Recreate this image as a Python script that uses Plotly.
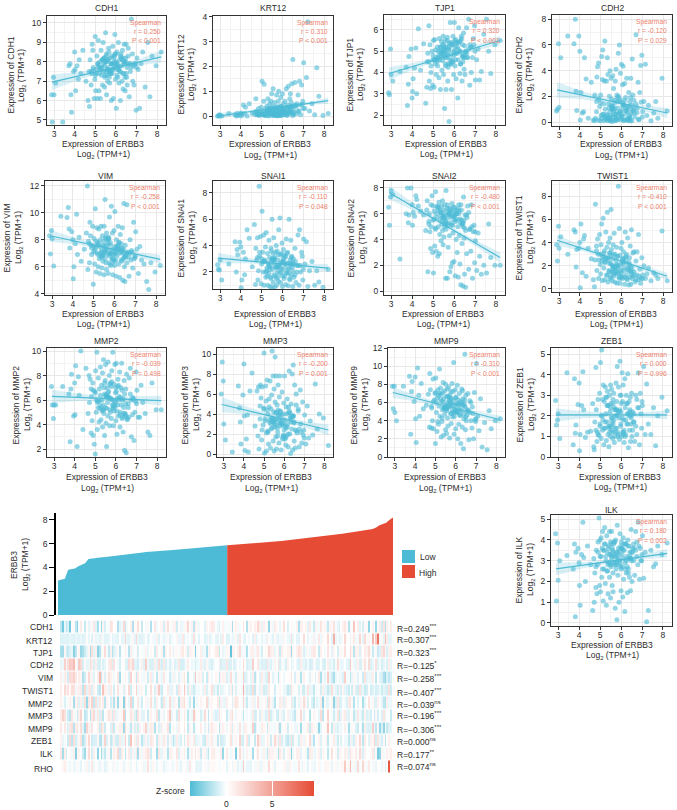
import numpy as np
import plotly.graph_objects as go

W, H = 677, 810
BLUE = '#4DBBD5'
RED = '#E64B35'
TXT = '#2b2b2b'

# ERBB3 per sample, shared by every scatter panel and the heatmap columns
ERBB3 = [2.88,2.92,2.97,3.0,3.08,3.42,3.72,3.78,3.82,3.85,3.95,4.0,4.02,4.05,4.12,4.18,4.22,4.3,4.4,4.55,
         4.65,4.7,4.72,4.75,4.8,4.82,4.85,4.88,4.9,4.95,4.98,5.0,5.02,5.05,5.08,5.1,5.12,5.15,5.18,5.2,
         5.22,5.25,5.28,5.3,5.32,5.35,5.35,5.38,5.4,5.42,5.45,5.45,5.48,5.5,5.5,5.52,5.55,5.55,5.58,5.6,5.62,5.62,5.65,5.68,5.7,5.72,5.74,5.76,5.78,5.8,
         5.82,5.85,5.88,5.9,5.92,5.95,5.98,6.0,6.02,6.05,6.08,6.1,6.12,6.15,6.18,6.2,6.22,6.25,6.28,6.3,6.32,6.35,6.38,6.4,6.42,6.45,6.48,6.5,6.52,6.55,
         6.6,6.65,6.7,6.75,6.8,6.82,6.88,6.92,6.98,7.02,7.08,7.15,7.22,7.3,7.42,7.55,7.65,7.75,7.95,8.2,
         5.05,5.4,5.62,5.83,6.0,6.22,6.44,5.2,5.5,5.7,5.9,6.07,6.33,6.6,4.9,5.33,5.58,5.78,5.96,6.15,6.38,6.7,5.12,5.46,5.66,5.86,6.03,6.26,6.5,6.85,
         4.8,5.27,5.53,5.73,5.93,6.12,6.35,6.62,7.0,5.0,5.37,5.6,5.8,5.99,6.2,6.42,6.75,5.15,5.43,5.68,5.88,6.05,6.3,6.55,6.95,5.25,5.56,5.76,6.1,6.47]

CDH1 = [6.3,4.9,7.2,6.3,6.9,4.9,7.8,7.9,6.3,5.4,7.5,8.5,7.6,6.5,7.8,7.1,8.1,7.4,8.6,7.0,
        6.0,7.5,5.7,8.1,6.8,7.4,8.9,8.6,7.7,6.1,7.1,9.3,6.5,7.6,8.3,6.1,7.9,9.1,6.5,7.4,
        8.0,6.1,8.6,7.3,7.7,8.1,6.8,9.0,7.5,8.2,6.7,7.8,7.3,9.5,8.0,7.5,8.4,6.3,7.6,7.0,8.1,7.7,8.7,7.2,6.9,8.2,7.5,7.9,6.0,8.3,
        7.4,8.8,6.1,7.7,8.3,9.4,7.1,8.0,5.6,8.5,7.6,7.2,9.0,6.9,8.1,7.5,6.0,8.4,7.8,7.0,8.6,6.6,7.4,8.9,7.9,6.5,8.0,8.9,7.2,6.8,
        8.7,6.2,7.9,10.2,8.4,7.0,6.8,7.9,5.5,8.2,7.6,5.6,7.9,8.5,6.7,9.0,6.2,8.3,7.8,8.5,
        7.4,7.9,8.1,7.6,7.8,8.3,7.2,7.7,8.0,7.5,8.2,7.9,7.4,8.3,7.6,8.1,7.3,7.9,8.4,7.7,8.0,7.5,7.9,7.2,8.5,7.6,7.9,8.2,7.4,7.8,
        7.5,7.7,8.3,7.4,8.0,7.6,8.2,7.9,7.7,7.3,8.1,7.6,7.9,8.4,7.5,8.0,7.7,7.8,8.2,7.5,7.9,7.3,8.1,7.7,7.9,7.6,8.0,7.4,7.8,8.2]
KRT12 = [0,0,.05,.02,0,.1,.05,0,.1,.02,.05,.12,0,.08,.45,.1,.35,0,.5,.1,
         .15,.05,.7,.2,.05,.1,.3,.02,.15,.05,.35,.1,1.4,.05,.2,.6,1.28,.1,.02,.3,
         .05,.4,.15,.7,0,.25,.1,.5,.02,.3,.6,.1,.9,.2,.05,.4,.15,1.1,.3,.02,.1,.55,.2,.05,.35,.85,0,.25,.1,.6,
         1.0,.15,.4,.02,.75,.2,.1,.9,.3,.5,.05,.2,.6,.15,1.1,.35,.05,.45,1.2,.1,.3,.7,.9,.15,.55,1.3,.02,2.28,.25,.05,
         1.35,.4,.1,.85,.2,1.4,.05,1.25,.6,2.15,.3,1.55,3.8,.2,.5,.05,1.95,.8,.02,.1,
         .1,.2,.05,.3,.15,.02,.4,.1,.25,.05,.35,.12,.2,.45,.08,.3,.02,.18,.4,.1,.25,.5,.05,.15,.3,.02,.2,.35,.1,.45,
         .05,.22,.12,.38,.02,.28,.15,.42,.3,.08,.18,.32,.05,.25,.12,.4,.2,.02,.3,.1,.22,.05,.35,.15,.48,.1,.28,.02,.18,.38]
TJP1 = [3.05,2.95,5.1,3.9,3.6,4.05,4.25,2.45,3.45,4.75,5.1,2.8,3.1,3.7,4.2,5.15,3.0,6.05,4.1,5.35,
        2.55,3.3,4.5,4.9,6.2,3.6,5.3,3.25,4.0,5.0,3.4,4.8,5.5,3.3,5.55,4.4,5.05,3.9,4.6,5.2,
        4.3,5.0,3.75,5.6,4.6,5.2,3.2,4.8,5.45,4.1,5.0,4.55,5.7,3.9,4.75,5.3,2.3,4.95,5.5,4.4,3.2,5.15,4.7,5.65,3.6,4.25,5.05,1.7,5.35,4.6,
        6.35,4.85,3.2,5.4,4.5,5.7,3.9,5.0,6.35,4.3,5.55,3.7,4.9,5.2,2.8,4.6,6.1,5.45,3.95,5.0,4.4,5.7,3.6,5.3,4.75,5.85,4.15,5.25,3.9,4.95,
        6.1,4.7,6.5,3.4,5.2,4.0,4.7,5.6,6.2,3.65,4.6,5.1,3.65,4.05,5.8,6.5,5.0,3.95,5.3,5.5,
        4.6,4.9,5.2,4.4,5.0,5.4,4.7,4.5,5.1,4.8,5.3,4.6,5.5,4.9,4.3,5.0,4.7,5.2,4.5,5.4,4.8,5.1,4.6,5.3,4.9,4.4,5.5,5.0,4.7,5.2,
        4.5,4.8,5.1,4.4,5.3,4.9,5.6,4.7,5.0,4.6,5.2,4.3,5.4,4.8,5.1,4.5,5.3,4.7,4.9,5.5,4.6,5.2,4.4,5.0,5.3,4.7,4.9,5.1,5.4,4.8]
CDH2 = [.85,1.0,6.1,1.15,5.0,6.7,6.1,8.0,2.4,.9,6.7,5.5,.15,2.3,.7,.8,5.0,3.35,.3,3.1,
        .15,.1,2.1,.3,.8,3.5,4.3,.15,4.6,1.2,.1,2.1,.5,5.1,3.3,5.6,.6,.1,3.2,6.3,
        1.0,.2,3.2,.6,5.0,.1,3.7,1.4,.3,2.0,.8,4.0,.15,3.4,.5,1.8,.05,1.2,3.6,.4,2.6,.9,.15,1.5,3.2,.6,4.1,.3,2.1,.8,
        1.1,5.35,.2,6.0,1.6,3.8,.4,4.5,.9,2.9,4.35,.1,1.3,3.0,.6,1.9,.2,3.4,.8,1.2,.1,2.3,.5,1.6,.3,3.4,1.0,.1,4.9,2.1,
        1.7,.4,6.8,1.1,3.1,.2,2.3,4.4,5.2,.8,1.6,4.5,.5,1.3,.1,.7,1.6,.3,3.4,.85,
        .3,1.1,.6,1.6,.2,.9,1.9,.4,1.3,.1,.7,1.5,.25,1.0,1.8,.5,1.2,.15,.8,1.7,.35,1.4,.6,.1,1.1,2.0,.45,.9,1.3,.2,
        1.6,.3,1.0,.55,1.8,.15,1.2,.7,.4,1.5,.25,.95,1.9,.5,1.1,.1,.75,1.4,.35,1.7,.6,1.25,.2,.85,1.55,.4,1.05,.3,1.35,.65]
VIM = [8.3,6.95,8.7,8.1,6.05,9.75,9.65,10.4,8.8,7.4,8.6,8.0,5.1,6.0,7.7,9.9,6.9,8.2,6.4,7.3,
       8.5,12.0,5.8,7.9,6.3,9.3,8.3,7.6,6.9,9.0,4.7,7.1,8.1,6.2,10.3,7.4,5.6,8.9,7.0,7.8,
       6.0,8.8,7.5,5.5,8.0,6.7,9.0,7.2,5.9,8.3,7.6,6.4,7.9,5.4,9.0,7.1,11.0,6.6,8.1,7.3,5.8,8.5,6.9,7.7,5.5,8.2,6.3,9.7,7.0,6.1,
       7.6,10.5,6.6,8.5,5.4,7.3,8.7,6.1,10.1,7.0,5.3,8.0,6.8,7.5,9.0,6.2,7.8,5.2,8.4,7.1,6.5,7.4,8.9,5.0,7.0,10.7,6.0,4.9,7.6,6.7,
       10.6,7.1,5.3,8.0,6.5,7.2,5.9,9.3,6.8,8.6,7.3,5.5,7.5,6.5,6.2,4.9,4.3,6.3,5.6,6.1,
       7.2,6.8,7.6,7.0,6.4,7.8,7.3,6.9,7.5,8.0,6.6,7.1,7.7,6.3,7.4,6.9,8.2,7.0,6.5,7.6,7.2,6.7,7.9,6.9,7.3,6.2,7.5,7.0,6.8,7.1,
       7.7,6.6,7.2,8.1,6.9,7.4,6.4,7.0,6.7,7.5,7.1,6.3,7.8,6.9,7.3,6.6,7.0,7.6,6.8,8.0,7.2,6.5,7.4,6.9,6.6,7.7,7.1,6.8,7.3,6.7]
SNAI1 = [2.55,2.2,2.15,2.9,1.4,2.6,4.3,2.0,3.7,3.3,4.25,3.9,.8,1.4,3.5,1.8,3.0,5.2,4.55,2.4,
         5.6,1.05,3.8,2.9,4.6,1.4,2.1,8.5,3.2,4.7,1.1,2.6,6.6,3.5,2.0,4.8,1.0,2.8,3.9,1.6,
         5.0,2.3,3.4,1.0,2.7,4.4,1.9,3.1,.9,2.5,3.8,1.5,2.9,.8,6.0,2.2,3.4,1.2,4.6,2.7,.85,3.0,1.7,2.4,4.0,1.0,3.6,2.0,2.9,1.3,
         5.2,2.5,6.1,1.2,3.3,2.0,4.2,.9,2.8,3.7,1.5,2.3,3.1,1.05,4.5,1.9,2.6,3.5,.95,2.2,6.0,1.4,2.9,4.4,1.8,3.2,2.4,.9,3.0,1.6,
         3.8,1.2,2.5,4.8,1.0,5.2,2.0,3.5,1.4,4.5,2.6,4.3,.9,2.1,2.8,1.0,2.1,1.25,.85,2.2,
         2.8,2.2,3.1,2.5,1.7,3.4,2.6,2.0,3.0,1.5,2.7,3.3,2.3,1.8,3.5,2.5,2.9,1.6,2.2,3.2,2.6,2.0,2.8,3.6,2.4,1.9,3.0,2.7,2.1,2.5,
         3.1,1.7,2.9,2.3,3.4,2.6,1.5,2.8,2.2,3.0,2.4,1.8,3.3,2.7,2.0,3.1,2.5,2.9,1.6,3.5,2.3,2.8,1.9,2.6,3.2,2.1,3.0,2.4,1.7,2.7]
SNAI2 = [6.5,5.1,7.3,7.8,7.5,2.5,6.0,8.0,5.3,5.9,8.0,6.7,5.1,6.1,5.8,7.4,7.1,6.6,6.2,5.9,
         4.7,6.3,7.0,1.5,5.2,6.0,4.6,3.3,6.7,7.4,3.0,5.5,1.4,6.2,3.5,4.9,7.7,3.1,5.7,6.5,
         2.7,5.0,6.9,2.9,4.4,6.1,5.6,3.9,6.6,5.2,4.7,7.0,3.6,5.9,6.3,4.2,6.7,5.0,5.5,1.0,7.8,4.8,6.1,1.0,5.3,3.4,6.4,5.7,4.3,1.5,
         6.2,1.9,5.1,6.8,2.2,4.5,5.8,2.3,6.5,1.2,5.4,4.0,6.0,3.0,5.0,1.1,6.7,4.3,2.1,5.6,.5,6.3,3.7,5.2,.4,7.3,4.1,1.3,5.9,.3,
         2.9,6.6,1.7,4.8,3.1,6.7,1.0,4.6,2.2,3.9,1.6,4.5,2.7,1.3,2.0,1.4,5.2,2.6,2.0,2.0,
         5.6,6.1,5.2,6.4,5.8,6.0,5.3,6.6,5.7,5.1,6.2,5.5,6.7,5.9,5.0,6.3,5.4,6.0,6.5,5.6,5.2,6.1,4.8,5.7,6.4,5.3,5.9,6.2,4.9,5.0,
         5.4,6.5,5.8,6.0,5.1,6.3,5.5,5.7,4.6,6.6,5.9,5.2,6.1,5.6,6.4,5.0,4.8,6.0,5.4,6.7,5.8,6.2,5.3,4.7,5.1,6.3,5.7,5.9,6.0,5.5]
TWIST1 = [3.8,2.4,5.4,3.5,4.5,3.0,5.1,4.9,1.9,3.4,3.5,4.0,.1,5.6,1.4,4.3,4.6,1.1,3.5,2.6,
          .8,.2,2.5,7.3,3.7,1.6,4.3,3.0,.9,4.7,2.1,1.3,3.8,5.6,.7,2.8,6.1,1.8,3.3,.8,
          2.3,4.9,1.2,3.6,6.6,.6,2.7,4.0,1.6,3.1,.9,4.4,2.2,1.0,6.85,3.4,1.5,.7,2.6,3.8,1.1,2.0,4.8,.6,3.0,1.7,2.4,3.6,.5,1.3,
          2.8,8.85,1.0,5.2,.5,2.1,3.5,1.4,4.0,.9,2.6,3.2,1.8,.4,4.9,2.3,1.2,3.0,.8,4.4,1.6,.35,2.7,1.0,3.7,.4,5.1,1.9,.9,3.1,
          1.5,.6,2.4,3.2,.8,4.7,1.7,.5,2.7,1.2,2.0,.9,1.3,1.8,.7,1.4,1.2,.9,5.0,.7,
          2.4,1.5,3.0,2.0,1.1,2.7,1.8,2.3,2.9,1.4,.9,2.2,1.7,3.2,2.5,1.2,1.9,2.8,1.6,1.0,2.1,.8,2.6,3.1,1.3,1.8,2.4,.9,1.5,1.1,
          3.3,2.6,1.4,2.0,2.9,1.6,2.3,1.2,.9,3.0,2.5,1.7,2.1,1.0,2.8,1.5,1.2,3.1,2.2,1.8,1.4,2.6,1.9,1.1,.9,2.7,2.0,1.5,2.3,1.3]
MMP2 = [7.1,5.6,4.5,5.6,5.6,7.1,6.5,2.6,6.9,8.1,4.7,7.4,4.8,8.8,2.2,7.9,6.4,10.0,3.6,8.6,
        4.9,8.0,5.8,7.7,3.3,6.3,4.3,7.4,3.1,2.4,6.7,1.6,8.4,5.0,9.9,3.6,5.9,7.8,4.2,6.9,
        5.3,8.7,4.4,7.2,6.0,3.8,8.2,5.6,9.3,4.9,6.5,3.1,7.6,5.4,8.9,4.1,6.2,2.2,7.0,5.8,9.1,4.7,6.7,8.0,3.9,5.2,7.4,6.1,4.5,8.4,
        6.0,9.9,3.9,7.3,5.1,8.9,6.6,4.3,9.0,3.2,5.6,7.7,4.7,6.3,8.3,3.8,5.0,7.0,9.0,4.5,6.0,3.4,5.4,7.6,1.9,4.9,6.9,1.7,8.1,4.4,
        5.4,7.8,8.6,3.0,4.8,6.2,2.7,5.0,8.3,6.8,4.6,4.6,7.2,5.8,4.9,3.4,3.1,7.4,5.2,5.2,
        6.0,5.2,6.6,5.6,7.0,6.2,4.8,5.9,6.4,7.3,5.4,6.1,4.6,5.7,6.8,5.1,6.3,7.1,5.5,6.0,4.9,6.5,5.8,7.4,6.2,5.3,6.7,5.6,4.7,6.1,
        6.9,5.5,6.4,5.0,5.9,7.2,6.1,4.6,5.7,6.6,5.2,6.3,7.5,5.8,4.8,6.5,6.0,5.4,7.0,6.2,5.6,5.1,6.8,4.5,5.9,6.4,5.3,6.1,7.1,5.7]
MMP3 = [6.0,9.2,7.3,3.0,1.4,.2,6.8,4.6,3.2,1.0,5.9,9.0,3.8,.35,1.5,3.9,.2,6.3,8.1,2.8,
        6.3,1.8,6.7,.5,3.5,6.9,5.6,1.4,6.7,2.9,4.5,10.1,.1,3.3,6.8,5.3,.3,7.4,2.3,4.0,
        1.0,5.5,3.2,7.3,.6,4.5,2.5,5.9,10.3,3.6,1.3,7.8,4.2,.3,6.5,3.0,5.2,9.7,1.7,7.8,3.5,.5,4.9,2.2,6.9,3.9,1.1,5.7,7.8,2.8,
        4.3,.4,3.1,6.2,1.5,4.0,5.1,2.4,7.8,3.4,.9,4.7,1.8,5.5,3.0,.7,4.1,8.3,2.0,3.6,.05,5.0,2.5,8.0,.4,8.9,3.2,1.3,6.9,.6,
        6.0,2.1,4.3,.7,6.4,3.0,1.1,5.2,2.4,3.9,1.0,4.8,1.6,3.3,1.9,7.0,2.5,4.0,3.6,.85,
        3.5,2.6,4.2,3.1,1.8,4.7,3.8,2.2,3.3,4.4,2.9,1.6,3.6,4.9,2.4,3.0,4.1,3.4,1.9,2.7,3.8,4.5,2.1,3.2,2.6,3.9,1.5,4.3,3.1,2.2,
        4.8,3.4,2.7,3.9,1.7,4.0,3.2,2.3,1.6,4.6,3.6,2.9,4.2,3.0,2.0,3.7,2.5,4.4,3.3,1.8,3.5,2.8,4.1,2.4,1.9,4.7,3.4,3.1,2.6,3.8]
MMP9 = [7.8,5.3,7.8,4.9,4.0,7.8,8.9,2.5,7.2,8.3,6.1,8.8,4.2,1.6,9.8,6.8,4.5,8.1,5.3,5.7,
        6.9,3.3,9.2,7.4,3.2,5.4,4.0,8.6,3.1,6.3,7.0,1.5,8.7,4.9,2.8,6.5,7.4,3.6,5.6,9.7,
        4.5,7.6,2.2,6.1,3.9,7.1,5.2,8.2,2.4,6.4,4.7,7.3,5.7,3.0,8.0,6.7,5.1,2.6,7.5,4.3,6.0,3.4,7.7,5.5,2.1,6.8,4.8,7.2,3.7,5.9,
        8.1,4.4,6.3,10.4,2.5,5.3,7.4,3.1,6.6,4.9,7.9,2.0,5.8,3.6,7.0,4.6,6.1,1.5,5.1,7.5,3.3,6.4,.9,4.2,5.6,11.3,3.0,6.8,4.0,5.0,
        7.0,1.9,4.9,6.0,3.2,5.5,2.0,7.1,3.9,10.3,4.5,2.9,6.4,1.1,3.8,.8,5.1,3.1,4.0,4.2,
        6.0,5.4,6.7,5.1,5.8,4.6,6.3,7.0,5.5,6.5,4.9,5.9,7.3,5.2,6.1,4.3,5.7,6.4,5.0,5.6,4.7,6.2,3.9,5.3,6.6,7.2,5.0,5.8,4.4,4.8,
        5.6,6.9,5.3,6.0,4.5,6.3,5.7,5.1,4.2,7.1,6.1,5.5,4.8,6.5,5.2,5.9,4.0,6.8,5.4,6.2,5.7,5.0,6.0,4.6,4.1,6.4,5.3,5.8,4.9,5.5]
ZEB1 = [2.75,1.55,1.8,2.1,.9,4.1,.6,3.8,1.15,1.55,2.55,3.6,.3,1.1,2.5,4.15,2.3,.95,1.2,1.25,
        2.6,.5,.35,1.7,4.35,2.3,.75,1.2,2.8,1.05,3.1,1.6,4.6,.9,5.2,2.0,1.3,3.5,.6,2.7,
        1.4,3.4,2.1,.8,2.9,1.7,3.2,1.1,2.5,.5,3.0,1.5,2.2,3.5,1.0,2.6,1.3,3.3,1.9,.9,2.8,1.6,3.1,.7,2.3,1.2,2.0,3.6,1.4,2.7,
        4.4,1.0,3.4,2.2,.85,4.65,1.5,3.0,2.6,4.1,1.2,3.5,1.8,.7,3.8,2.4,1.1,3.0,1.6,2.1,4.05,.45,2.7,1.3,2.3,.75,1.9,3.1,1.0,2.2,
        1.7,.75,3.0,1.1,2.4,4.1,.6,3.1,1.4,2.5,4.4,1.1,3.55,1.6,1.1,2.4,.55,2.0,2.9,2.25,
        2.0,1.5,2.6,1.2,2.2,1.8,2.9,1.4,2.4,1.0,1.9,2.7,1.6,2.1,1.1,2.5,1.7,2.3,3.0,1.3,2.0,1.5,2.8,1.2,1.8,2.2,1.0,2.6,1.6,2.4,
        1.3,2.9,1.9,1.4,2.3,1.1,2.1,1.7,2.7,1.5,2.5,1.2,2.0,1.6,1.0,2.2,2.8,1.8,1.4,2.4,1.1,1.9,2.6,1.3,2.1,1.7,1.5,2.3,1.2,2.0]
ILK = [4.3,1.05,3.85,2.05,3.0,3.25,2.6,3.8,.3,3.4,3.6,2.9,1.8,.85,3.3,4.85,3.15,2.0,3.7,2.8,
       .6,3.1,1.0,2.4,1.7,3.5,1.4,2.8,3.9,5.05,1.8,3.2,1.5,4.1,2.2,3.6,4.4,1.05,2.6,3.8,
       4.6,1.9,3.0,.85,4.2,2.5,3.4,1.4,3.7,2.9,4.4,2.2,3.3,1.2,3.9,2.7,4.4,3.1,1.8,3.5,2.4,1.5,3.8,2.8,3.2,.7,4.0,2.6,3.4,.15,
       4.7,2.3,3.6,1.0,3.0,4.3,2.7,1.55,3.9,3.3,1.25,4.1,2.1,3.5,.55,2.9,3.8,2.4,3.2,1.45,4.0,2.6,3.7,2.2,3.4,1.55,4.5,3.0,2.0,3.6,
       3.8,2.3,4.4,3.2,2.8,4.85,2.1,3.6,3.0,4.2,2.15,3.4,.05,.6,3.5,2.7,2.85,3.7,3.3,3.85,
       3.2,3.6,2.9,3.4,2.6,3.8,3.1,3.5,2.8,3.9,3.3,2.7,3.7,3.0,3.4,2.5,3.6,3.2,2.9,3.8,3.1,3.5,2.6,3.3,3.9,2.8,3.6,3.0,3.4,3.7,
       2.7,3.2,3.8,2.9,3.5,3.1,2.4,3.6,3.3,4.0,2.8,3.4,3.0,3.7,2.6,3.2,3.9,3.5,2.9,3.3,3.1,3.6,2.7,3.4,3.0,3.8,3.2,2.8,3.5,3.1]
# heatmap only, already z-scored
RHO_Z = [.1,.5,.9,.3,-.2,-.4,.2,-.5,-.3,.4,-.2,-.6,.1,-.3,.6,-.5,-.2,1.2,-.4,.1,
         -.3,-.5,.3,-.2,-.6,.2,-.1,-.4,.5,-.3,.1,-.5,-.2,.3,-.4,.1,-.6,-.2,.4,-.3,
         1.6,-.4,.2,-.5,-.1,.3,-.6,-.2,.1,-.4,.6,-.3,.2,-.5,-.1,1.3,-.4,.1,-.6,.3,-.2,-.5,.4,-.1,-.3,.2,-.6,.1,-.4,.3,
         -.2,2.6,-.5,.1,-.3,.5,-.4,-.2,1.8,-.6,.2,-.1,.4,-.5,.1,-.3,1.4,-.2,.3,-.6,.1,-.4,.5,-.2,-.1,.3,-.5,.2,-.3,.1,
         2.8,.6,3.6,.3,1.9,-.2,2.2,.4,1.1,-.3,.5,-.5,.2,-.1,-.4,.3,-.6,-.2,9.0,-.3,
         .2,-.3,.4,-.5,.1,-.2,.6,-.4,.3,-.1,-.6,.2,-.3,.5,-.2,.1,-.5,.3,-.4,.7,-.1,-.3,.2,-.6,.4,-.2,.1,-.5,.3,-.1,
         -.4,.5,-.2,.1,-.3,.6,-.5,.2,-.1,.4,-.3,.1,-.6,.3,-.2,.5,-.4,.1,-.1,.2,-.5,.3,-.2,.4,-.3,.1,-.6,.2,-.1,.3]

# area chart at the top, samples by rank
ERBB3_LOW = [2.9,3.0,3.05,3.8,3.85,3.9,4.1,4.2,4.35,4.7,4.75,4.8,4.82,4.85,4.87,4.9,4.93,4.97,5.0,5.03,5.07,5.1,5.14,5.18,5.22,
             5.26,5.3,5.33,5.35,5.37,5.39,5.41,5.43,5.45,5.47,5.49,5.51,5.53,5.55,5.57,5.59,5.61,5.63,5.65,5.67,5.69,5.71,5.74,5.77,5.8]
ERBB3_HIGH = [5.85,5.87,5.89,5.91,5.93,5.95,5.97,5.99,6.0,6.02,6.04,6.07,6.1,6.13,6.16,6.19,6.22,6.25,6.28,6.31,6.34,6.37,6.4,6.43,6.46,
              6.49,6.52,6.55,6.58,6.62,6.66,6.7,6.74,6.78,6.82,6.86,6.9,6.94,6.98,7.02,7.06,7.1,7.15,7.22,7.35,7.55,7.65,7.75,8.0,8.2]

# regression line at x=2.9 and x=8.2, ribbon half widths at BAND_X
BAND_X = [2.9, 4.2, 5.8, 7.2, 8.2]
FIT = {'CDH1': [6.95, 8.25], 'KRT12': [0, 0.62], 'TJP1': [3.95, 5.5], 'CDH2': [2.5, 0.7], 'VIM': [8.3, 6.55],
       'SNAI1': [3.05, 2.3], 'SNAI2': [7.65, 2.6], 'TWIST1': [4.2, 1.1], 'MMP2': [6.3, 5.95], 'MMP3': [4.95, 2.4],
       'MMP9': [7.1, 4.1], 'ZEB1': [2.05, 2.05], 'ILK': [2.6, 3.35]}
BAND = {'CDH1': [.4,.2,.1,.17,.3], 'KRT12': [.12,.06,.04,.06,.12], 'TJP1': [.3,.15,.08,.13,.22],
        'CDH2': [.6,.3,.15,.25,.4], 'VIM': [.45,.22,.12,.2,.32], 'SNAI1': [.4,.2,.12,.18,.3],
        'SNAI2': [.5,.27,.15,.25,.4], 'TWIST1': [.45,.22,.12,.2,.3], 'MMP2': [.55,.3,.17,.27,.4],
        'MMP3': [.75,.37,.2,.33,.55], 'MMP9': [.6,.3,.17,.28,.45], 'ZEB1': [.32,.17,.09,.14,.22],
        'ILK': [.3,.15,.08,.13,.2]}
STATS = {'CDH1': ['r = 0.250', 'P < 0.001'], 'KRT12': ['r = 0.310', 'P < 0.001'], 'TJP1': ['r = 0.320', 'P < 0.001'],
         'CDH2': ['r = -0.120', 'P = 0.029'], 'VIM': ['r = -0.258', 'P < 0.001'], 'SNAI1': ['r = -0.110', 'P = 0.048'],
         'SNAI2': ['r = -0.480', 'P < 0.001'], 'TWIST1': ['r = -0.410', 'P < 0.001'], 'MMP2': ['r = -0.039', 'P = 0.498'],
         'MMP3': ['r = -0.200', 'P = 0.001'], 'MMP9': ['r = -0.310', 'P < 0.001'], 'ZEB1': ['r = 0.000', 'P = 0.996'],
         'ILK': ['r = 0.180', 'P = 0.002']}

HEAT_GENES = ['CDH1','KRT12','TJP1','CDH2','VIM','TWIST1','MMP2','MMP3','MMP9','ZEB1','ILK','RHO']
HEAT_R = ['R=0.249<sup>***</sup>','R=0.307<sup>***</sup>','R=0.323<sup>***</sup>','R=−0.125<sup>*</sup>',
          'R=−0.258<sup>***</sup>','R=−0.407<sup>***</sup>','R=−0.039<sup>ns</sup>','R=−0.196<sup>***</sup>',
          'R=−0.306<sup>***</sup>','R=0.000<sup>ns</sup>','R=0.177<sup>**</sup>','R=0.074<sup>ns</sup>']
HEAT_LABEL_Y = [627,641,653,665,678,691,704,716,729,741,754,769]
HEAT_R_Y = [628,639,652,665,678,692,704,715,729,741,754,766]

VALUES = {'CDH1': CDH1, 'KRT12': KRT12, 'TJP1': TJP1, 'CDH2': CDH2, 'VIM': VIM, 'SNAI1': SNAI1, 'SNAI2': SNAI2,
          'TWIST1': TWIST1, 'MMP2': MMP2, 'MMP3': MMP3, 'MMP9': MMP9, 'ZEB1': ZEB1, 'ILK': ILK}

# gene, panel box x0 x1 y0 y1, y range, y dtick, title y, x label centre + y, y label x + y
PANELS = [
    ('CDH1', 47, 166, 16, 125, [4.74, 10.36], 1, 8, 103, 149, 16, 75),
    ('KRT12', 213, 333, 16, 125, [-0.36, 4.03], 1, 8, 270, 150, 186, 75),
    ('TJP1', 384, 505, 15, 125, [1.53, 6.7], 1, 8, 446, 149, 355, 75),
    ('CDH2', 552, 672, 15, 126, [-0.31, 8.33], 2, 8, 621, 150, 524, 75),
    ('VIM', 45, 165, 181, 295, [3.9, 12.37], 2, 176, 103, 319, 12, 238),
    ('SNAI1', 213, 333, 181, 289, [0.71, 8.9], 2, 176, 275, 319, 186, 238),
    ('SNAI2', 384, 505, 181, 295, [-0.3, 8.54], 2, 176, 443, 319, 356, 238),
    ('TWIST1', 552, 672, 181, 292, [-0.26, 9.3], 2, 176, 616, 319, 524, 238),
    ('MMP2', 47, 166, 348, 457, [1.35, 10.25], 2, 341, 107, 483, 21, 405),
    ('MMP3', 217, 333, 348, 457, [-0.3, 10.6], 2, 341, 271, 483, 190, 405),
    ('MMP9', 388, 505, 348, 457, [0, 12], 2, 341, 445, 483, 359, 405),
    ('ZEB1', 551, 672, 348, 457, [0, 5.3], 1, 341, 620, 482, 525, 405),
    ('ILK', 551, 672, 515, 626, [-0.15, 5.2], 1, 510, 612, 650, 524, 570),
]


def xdom(x0, x1):
    return [x0 / W, x1 / W]


def ydom(y0, y1):
    return [1 - y1 / H, 1 - y0 / H]


annotations = []


def label(text, x, y, size=8.5, color=TXT, anchor='center', angle=0):
    annotations.append(dict(text=text, x=x / W, y=1 - y / H, xref='paper', yref='paper', showarrow=False,
                            xanchor=anchor, yanchor='middle', align=anchor if anchor != 'center' else 'center',
                            textangle=angle, font=dict(size=size, color=color), borderpad=0))


fig = go.Figure()
layout_axes = {}
LOG_UNIT = 'Log<sub>2</sub> (TPM+1)'

for i, (gene, x0, x1, y0, y1, yr, dt, ty, lx, ly, vx, vy) in enumerate(PANELS):
    n = i + 1
    xname, yname = f'x{n}', f'y{n}'
    lo, hi = FIT[gene]
    bx = np.array(BAND_X)
    centre = lo + (hi - lo) * (bx - 2.9) / 5.3
    half = np.array(BAND[gene])
    fig.add_trace(go.Scatter(x=list(bx) + list(bx[::-1]), y=list(centre + half) + list((centre - half)[::-1]),
                             mode='lines', fill='toself', fillcolor='rgba(77,187,213,0.22)', line=dict(width=0),
                             xaxis=xname, yaxis=yname, showlegend=False, hoverinfo='skip'))
    fig.add_trace(go.Scatter(x=ERBB3, y=VALUES[gene], mode='markers',
                             marker=dict(color=BLUE, size=5, opacity=0.6, line=dict(width=0)),
                             xaxis=xname, yaxis=yname, showlegend=False))
    fig.add_trace(go.Scatter(x=[2.9, 8.2], y=[lo, hi], mode='lines', line=dict(color=BLUE, width=1.2),
                             xaxis=xname, yaxis=yname, showlegend=False, hoverinfo='skip'))
    common = dict(showline=True, mirror=True, linecolor='#333333', linewidth=1.3, ticks='outside', ticklen=3,
                  tickcolor='#333333', tickfont=dict(size=8.5, color=TXT), showgrid=True, gridcolor='#E8E8E8',
                  gridwidth=1, zeroline=False)
    layout_axes[f'xaxis{n}'] = dict(domain=xdom(x0, x1), range=[2.66, 8.43], anchor=yname, dtick=1, tick0=3,
                                    ticklabelstandoff=-2,
                                    minor=dict(showgrid=True, gridcolor='#F3F3F3', dtick=0.5, tick0=3), **common)
    tick0 = 0
    layout_axes[f'yaxis{n}'] = dict(domain=ydom(y0, y1), range=yr, anchor=xname, dtick=dt, tick0=tick0,
                                    minor=dict(showgrid=True, gridcolor='#F3F3F3', dtick=dt / 2, tick0=tick0), **common)
    label(gene, (x0 + x1) / 2, ty)
    label('Expression of ERBB3', lx, ly - 5.5)
    label(LOG_UNIT, lx, ly + 5.5)
    label(f'Expression of {gene}', vx - 5.5, vy, angle=-90)
    label(LOG_UNIT, vx + 6, vy, angle=-90)
    ann_c = '#EE7F6D'
    label('Spearman', x1 - 4, y0 + 6.5, size=6.7, color=ann_c, anchor='right')
    label(STATS[gene][0], x1 - 4, y0 + 15.5, size=6.7, color=ann_c, anchor='right')
    label(STATS[gene][1], x1 - 4, y0 + 25, size=6.7, color=ann_c, anchor='right')

# ranked ERBB3 area, low half and high half
n_area = len(PANELS) + 1
n_low = len(ERBB3_LOW)
fig.add_trace(go.Scatter(x=list(range(n_low + 1)), y=ERBB3_LOW + ERBB3_HIGH[:1], mode='lines', fill='tozeroy',
                         fillcolor=BLUE, line=dict(width=0),
                         xaxis=f'x{n_area}', yaxis=f'y{n_area}', showlegend=False))
fig.add_trace(go.Scatter(x=list(range(n_low, n_low + len(ERBB3_HIGH))), y=ERBB3_HIGH, mode='lines', fill='tozeroy',
                         fillcolor=RED, line=dict(width=0),
                         xaxis=f'x{n_area}', yaxis=f'y{n_area}', showlegend=False))
layout_axes[f'xaxis{n_area}'] = dict(domain=xdom(56, 393), range=[-0.6, 99], visible=False, anchor=f'y{n_area}')
layout_axes[f'yaxis{n_area}'] = dict(domain=ydom(513, 615), range=[0, 8.57], dtick=2, showgrid=False, zeroline=False,
                                     showline=True, linecolor='black', linewidth=1.5, ticks='outside', ticklen=5,
                                     tickcolor='black', tickfont=dict(size=8.5, color=TXT), anchor=f'x{n_area}')
label('ERBB3', 14, 565, angle=-90)
label(LOG_UNIT, 25, 565, angle=-90)

# heatmap columns follow ERBB3 order, z-scored per gene
order = np.argsort(ERBB3)
rows = []
for g in HEAT_GENES:
    if g == 'RHO':
        rows.append(list(np.array(RHO_Z)[order]))
    else:
        v = np.array(VALUES[g], dtype=float)
        rows.append(list(((v - v.mean()) / v.std())[order]))
n_heat = n_area + 1
zero_at = 4 / 13.6
fig.add_trace(go.Heatmap(z=rows, y=HEAT_GENES, x=list(range(len(ERBB3))), zmin=-4, zmax=9.6, ygap=1, xgap=0,
                         colorscale=[[0, BLUE], [zero_at, '#FFFFFF'], [1, RED]],
                         xaxis=f'x{n_heat}', yaxis=f'y{n_heat}',
                         colorbar=dict(orientation='h', x=190 / W, xanchor='left', y=1 - 781 / H, yanchor='top',
                                       len=124, lenmode='pixels', thickness=15, thicknessmode='pixels', xpad=0, ypad=0,
                                       tickvals=[0, 5], ticks='inside', ticklen=15, tickcolor='white', outlinewidth=0,
                                       tickfont=dict(size=8.5, color=TXT))))
layout_axes[f'xaxis{n_heat}'] = dict(domain=xdom(60, 392), visible=False, anchor=f'y{n_heat}')
layout_axes[f'yaxis{n_heat}'] = dict(domain=ydom(620.5, 773), visible=False, autorange='reversed', anchor=f'x{n_heat}')
for g, r, ly_, ry in zip(HEAT_GENES, HEAT_R, HEAT_LABEL_Y, HEAT_R_Y):
    label(g, 54, ly_, anchor='right')
    label(r, 396, ry, anchor='left')
label('Z-score', 186, 791, anchor='right')

# Low / High key
shapes = [dict(type='rect', xref='paper', yref='paper', x0=402 / W, x1=415 / W, y0=1 - 563 / H, y1=1 - 550 / H,
               fillcolor=BLUE, line=dict(width=0)),
          dict(type='rect', xref='paper', yref='paper', x0=402 / W, x1=415 / W, y0=1 - 578 / H, y1=1 - 565 / H,
               fillcolor=RED, line=dict(width=0))]
label('Low', 419, 557, anchor='left')
label('High', 418, 572.5, anchor='left')

fig.update_layout(width=W, height=H, autosize=False, margin=dict(l=0, r=0, t=0, b=0, autoexpand=False),
                  paper_bgcolor='white', plot_bgcolor='white',
                  font=dict(family='Liberation Sans, Arial, sans-serif', color=TXT),
                  annotations=annotations, shapes=shapes, showlegend=False, **layout_axes)
fig.write_html('out.html', config={'displayModeBar': False}, post_script="document.body.style.margin='0';")
